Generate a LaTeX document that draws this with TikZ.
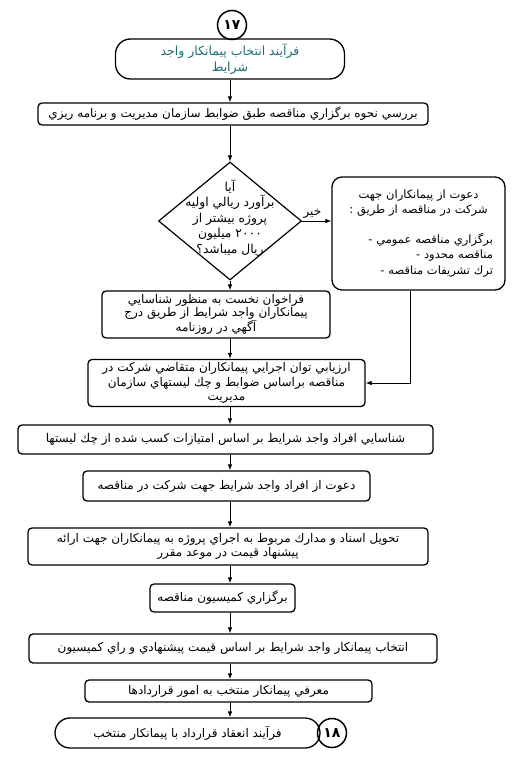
\documentclass[tikz,border=0pt]{standalone}
\usepackage{fontspec}
\setmainfont{DejaVu Sans}
\newfontfamily\fa[Script=Arabic]{DejaVu Sans}
\TeXXeTstate=1
\usetikzlibrary{arrows.meta,shapes.geometric}
\definecolor{termtxt}{RGB}{30,110,115}
\newcommand{\rl}[1]{\beginR #1\endR}

\begin{document}
\begin{tikzpicture}[
  x=1pt, y=-1pt,
  font=\fa\fontsize{12}{13.5}\selectfont,
  bx/.style={draw, line width=1.3pt, rounded corners=4pt, align=center,
             inner sep=0pt, fill=white},
  term/.style={draw, line width=1.3pt, rounded corners=15pt, align=center,
               inner sep=0pt},
  conn/.style={draw, circle, line width=1.5pt, inner sep=0pt, minimum size=29pt,
               font=\fa\bfseries\fontsize{14}{14}\selectfont},
  dec/.style={draw, diamond, line width=1.2pt, inner sep=0pt,
              minimum width=143pt, minimum height=118pt},
  a/.style={-{Latex[length=6pt,width=4.5pt]}, line width=0.8pt}
]
\path[fill=white, use as bounding box] (0,0) rectangle (515,768);
\coordinate (spine) at (230,0);

% ================= head =================
\node[conn] (c17) at (232,25) {۱۷};
\node[term, minimum width=229pt, minimum height=40pt, text=termtxt,
      font=\fa\fontsize{12.5}{16}\selectfont] (t1) at (230,59)
  {\rl{فرآیند انتخاب پیمانکار واجد}\\\rl{شرایط}};

% ================= review and decision =================
\node[bx, minimum width=390pt, minimum height=22pt] (b1) at (233,114)
  {\rl{بررسي نحوه برگزاري مناقصه طبق ضوابط سازمان مديريت و برنامه ريزي}};
\node[dec] (q1) at (230,221) {};
\node[align=center, inner sep=0pt, yshift=3pt,
      font=\fa\fontsize{12.3}{15.5}\selectfont] (q1txt) at (q1)
  {\rl{آيا}\\\rl{برآورد ريالي اوليه}\\\rl{پروژه بيشتر از}\\
   \rl{۲۰۰۰ ميليون}\\\rl{ريال ميباشد؟}};
\node[bx, rounded corners=10pt, minimum width=173pt, minimum height=113pt,
      align=right, text width=149pt,
      font=\fa\fontsize{11.5}{15.5}\selectfont] (r1) at (418.5,233.5)
  {\makebox[\linewidth][c]{\rl{دعوت از پيمانكاران جهت}}\\
   \makebox[\linewidth][c]{\rl{شركت در مناقصه از طريق :}}\\[14pt]
   - \rl{برگزاري مناقصه عمومي}\\- \rl{مناقصه محدود}\\
   - \rl{ترك تشريفات مناقصه}};

% ================= tender steps =================
\node[bx, minimum width=228pt, minimum height=47pt] (p1) at (216,314.5)
  {\rl{فراخوان نخست به منظور شناسايي}\\
   \rl{پيمانكاران واجد شرايط از طريق درج}\\\rl{آگهي در روزنامه}};
\node[bx, minimum width=277pt, minimum height=47pt,
      font=\fa\fontsize{12}{14.5}\selectfont] (p2) at (226.5,383)
  {\rl{ارزيابي توان اجرايي پيمانكاران متقاضي شركت در}\\
   \rl{مناقصه براساس ضوابط و چك ليستهاي سازمان}\\\rl{مديريت}};
\node[bx, minimum width=415pt, minimum height=29pt] (p3) at (225.5,439.5)
  {\rl{شناسايي افراد واجد شرايط بر اساس امتيازات كسب شده از چك ليستها}};
\node[bx, minimum width=287pt, minimum height=30pt] (p4) at (226.5,486)
  {\rl{دعوت از افراد واجد شرايط جهت شركت در مناقصه}};
\node[bx, minimum width=400pt, minimum height=37pt] (p5) at (228,546.5)
  {\rl{تحويل اسناد و مدارك مربوط به اجراي پروژه به پيمانكاران جهت ارائه}\\
   \rl{پيشنهاد قيمت در موعد مقرر}};
\node[bx, minimum width=145pt, minimum height=28pt] (p6) at (222.5,598)
  {\rl{برگزاري كميسيون مناقصه}};
\node[bx, minimum width=408pt, minimum height=29pt] (p7) at (233,648.5)
  {\rl{انتخاب پيمانكار واجد شرايط بر اساس قيمت پيشنهادي و راي كميسيون}};
\node[bx, minimum width=287pt, minimum height=22pt] (p8) at (228.5,691)
  {\rl{معرفي پيمانكار منتخب به امور قراردادها}};

% ================= tail =================
\node[term, minimum width=265pt, minimum height=30pt] (t2) at (187.5,733)
  {\rl{فرآیند انعقاد قرارداد با پیمانکار منتخب}};
\node[conn] (c18) at (332,733) {۱۸};

% ================= flow =================
\draw[a] (t1.south -| spine) -- (b1.north -| spine);
\draw[a] (b1.south -| spine) -- (q1.north);
\draw[a] (q1.south) -- (p1.north -| spine);
\draw[a] (q1.east) -- node[above, pos=0.35, inner sep=2pt] {\rl{خير}}
  (q1.east -| r1.west);
\draw[a] (p1.south -| spine) -- (p2.north -| spine);
\draw[a] ([xshift=-8.5pt]r1.south) |- (p2.east);
\draw[a] (p2.south -| spine) -- (p3.north -| spine);
\draw[a] (p3.south -| spine) -- (p4.north -| spine);
\draw[a] (p4.south -| spine) -- (p5.north -| spine);
\draw[a] (p5.south -| spine) -- (p6.north -| spine);
\draw[a] (p6.south -| spine) -- (p7.north -| spine);
\draw[a] (p7.south -| spine) -- (p8.north -| spine);
\draw[a] (p8.south -| spine) -- (t2.north -| spine);
\end{tikzpicture}
\end{document}
